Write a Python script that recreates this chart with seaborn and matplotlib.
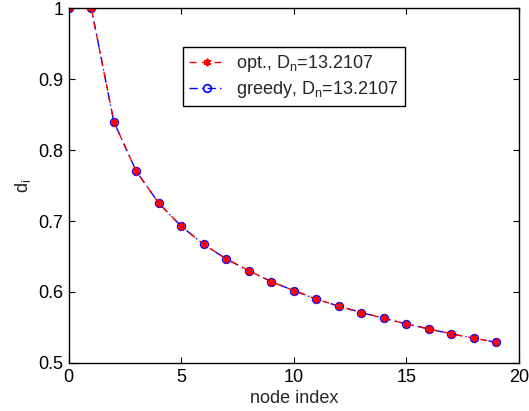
import matplotlib
matplotlib.use("Agg")
import matplotlib.pyplot as plt
import seaborn as sns
import pandas as pd

node_index = list(range(20))
opt_values = [1.0, 1.0, 0.840, 0.770, 0.725, 0.6925, 0.667, 0.6465, 0.630, 0.6145,
              0.602, 0.590, 0.580, 0.571, 0.563, 0.555, 0.548, 0.541, 0.535, 0.529]
greedy_values = list(opt_values)
opt_label = 'opt., D$_\\mathregular{n}$=13.2107'
greedy_label = 'greedy, D$_\\mathregular{n}$=13.2107'

sns.set_style("ticks")
plt.rcParams['font.family'] = ['Liberation Sans', 'DejaVu Sans']
plt.rcParams['mathtext.fontset'] = 'custom'
plt.rcParams['mathtext.rm'] = 'Liberation Sans'

fig = plt.figure(figsize=(5.29, 4.11), dpi=100)
ax = fig.add_axes([0.130, 0.1168, 0.851, 0.8637])

df_opt = pd.DataFrame({'x': node_index, 'y': opt_values})
df_greedy = pd.DataFrame({'x': node_index, 'y': greedy_values})

asterisk = (6, 2, 0)
sns.lineplot(data=df_greedy, x='x', y='y', ax=ax, color='blue', linestyle=(0, (6, 3, 1, 3)),
             linewidth=1.0, marker='o', markersize=5.5, markerfacecolor='none',
             markeredgecolor='blue', markeredgewidth=1.2, label=greedy_label)
sns.lineplot(data=df_opt, x='x', y='y', ax=ax, color='red', linestyle=(0, (5, 4)),
             linewidth=1.0, marker=asterisk, markersize=5.5, markeredgecolor='red',
             markerfacecolor='red', markeredgewidth=1.3, label=opt_label)

ax.set_xlim(0, 20)
ax.set_ylim(0.5, 1.0)
ax.set_xticks([0, 5, 10, 15, 20])
ax.set_yticks([0.5, 0.6, 0.7, 0.8, 0.9, 1.0])
ax.set_yticklabels(['0.5', '0.6', '0.7', '0.8', '0.9', '1'])
ax.tick_params(direction='in', top=True, right=True, labelsize=13, length=4, width=0.8,
               colors='black', pad=4)
for s in ax.spines.values():
    s.set_visible(True)
    s.set_linewidth(1.0)
    s.set_color('black')

ax.set_xlabel('node index', fontsize=13, labelpad=3)
ax.set_ylabel('d$_\\mathregular{i}$', fontsize=13, labelpad=4)

handles, labels = ax.get_legend_handles_labels()
order = [labels.index(opt_label), labels.index(greedy_label)]
leg = ax.legend([handles[i] for i in order], [labels[i] for i in order],
                loc='upper left', bbox_to_anchor=(0.253, 0.89), fontsize=13,
                frameon=True, fancybox=False, edgecolor='black', framealpha=1,
                borderpad=0.35, labelspacing=0.25, handlelength=2.0, handletextpad=0.6,
                borderaxespad=0)
leg.get_frame().set_linewidth(1.0)

fig.savefig('out.png', dpi=100)
